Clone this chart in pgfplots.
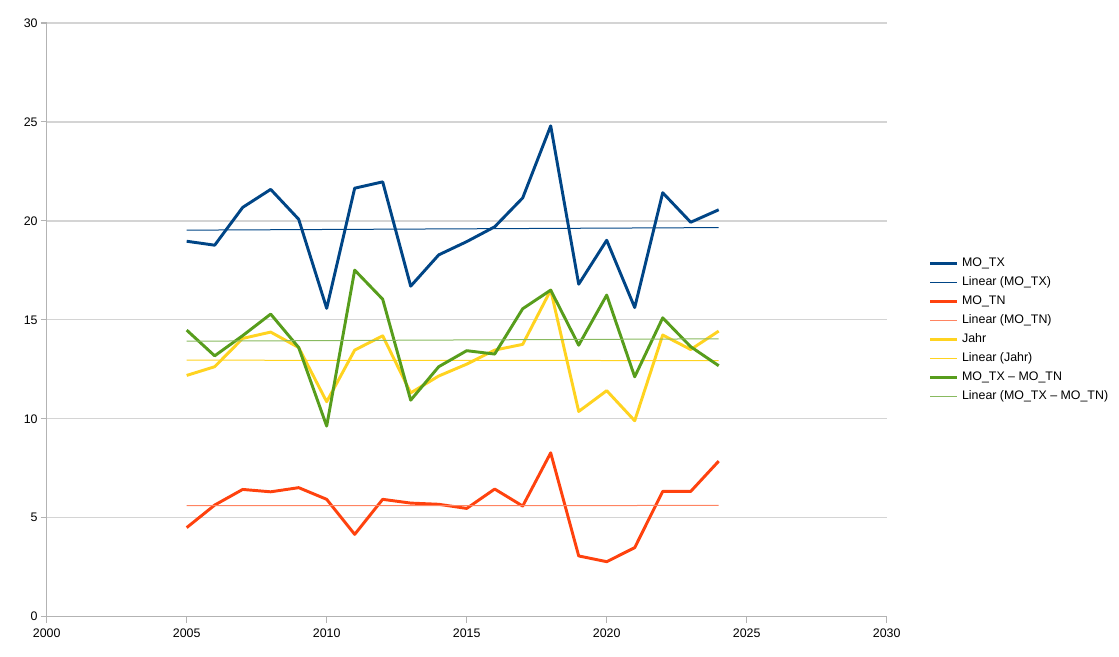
\documentclass[border=0pt]{standalone}
\usepackage{pgfplots}
\pgfplotsset{compat=1.18}
\usepackage{fontspec}
\setmainfont{Liberation Sans}
\definecolor{cTX}{HTML}{004586}
\definecolor{cTN}{HTML}{FF420E}
\definecolor{cJ}{HTML}{FFD320}
\definecolor{cD}{HTML}{579D1C}
\definecolor{axgray}{HTML}{B3B3B3}
\definecolor{grdgray}{HTML}{D4D4D4}
\begin{document}
\begin{tikzpicture}
\useasboundingbox (-35pt,-29.5pt) rectangle (804.2pt,462.5pt);
\begin{axis}[
  at={(0,0)}, anchor=south west,
  scale only axis, width=630pt, height=445.3pt,
  xmin=2000, xmax=2030, ymin=0, ymax=30,
  xtick={2000,2005,...,2030}, ytick={0,5,...,30},
  axis lines=left, axis line style={-, draw=axgray, line width=0.9pt},
  tick align=outside, major tick length=4.5pt,
  tick style={draw=axgray, line width=0.9pt},
  ymajorgrids, grid style={draw=grdgray, line width=1pt},
  /pgf/number format/assume math mode=true,
  /pgf/number format/1000 sep={},
  tick label style={font=\fontsize{9.3}{11}\selectfont, black},
  xticklabel style={yshift=-1pt},
  yticklabel style={xshift=1.2pt},
  legend cell align=left,
  legend style={at={(1.045,0.483)}, anchor=west, draw=none, fill=none,
    font=\fontsize{9.3}{11}\selectfont, row sep=0pt,
    nodes={inner sep=2.75pt, text height=6.5pt, text depth=2.2pt}},
  legend image code/.code={\draw[#1] (0pt,0pt) -- (20pt,0pt);},
  clip=false,
]
\addplot[cTX, line width=2.2pt, line join=round] coordinates {
(2005,18.97)(2006,18.77)(2007,20.68)(2008,21.59)(2009,20.08)(2010,15.58)
(2011,21.65)(2012,21.97)(2013,16.70)(2014,18.28)(2015,18.95)(2016,19.70)
(2017,21.16)(2018,24.80)(2019,16.80)(2020,19.02)(2021,15.62)(2022,21.42)
(2023,19.93)(2024,20.56)};
\addlegendentry{MO\_TX}
\addplot[cTX, line width=0.75pt] coordinates {(2005,19.53)(2024,19.66)};
\addlegendentry{Linear (MO\_TX)}
\addplot[cTN, line width=2.2pt, line join=round] coordinates {
(2005,4.50)(2006,5.64)(2007,6.43)(2008,6.31)(2009,6.52)(2010,5.93)
(2011,4.16)(2012,5.93)(2013,5.74)(2014,5.68)(2015,5.47)(2016,6.45)
(2017,5.59)(2018,8.28)(2019,3.07)(2020,2.78)(2021,3.49)(2022,6.33)
(2023,6.33)(2024,7.86)};
\addlegendentry{MO\_TN}
\addplot[cTN!65!white, line width=0.75pt] coordinates {(2005,5.61)(2024,5.62)};
\addlegendentry{Linear (MO\_TN)}
\addplot[cJ, line width=2.2pt, line join=round] coordinates {
(2005,12.19)(2006,12.63)(2007,14.06)(2008,14.38)(2009,13.60)(2010,10.86)
(2011,13.47)(2012,14.19)(2013,11.31)(2014,12.16)(2015,12.76)(2016,13.47)
(2017,13.76)(2018,16.50)(2019,10.37)(2020,11.42)(2021,9.90)(2022,14.23)
(2023,13.50)(2024,14.43)};
\addlegendentry{Jahr}
\addplot[cJ, line width=0.75pt] coordinates {(2005,12.96)(2024,12.94)};
\addlegendentry{Linear (Jahr)}
\addplot[cD, line width=2.2pt, line join=round] coordinates {
(2005,14.48)(2006,13.18)(2007,14.20)(2008,15.29)(2009,13.60)(2010,9.63)
(2011,17.51)(2012,16.04)(2013,10.94)(2014,12.63)(2015,13.44)(2016,13.27)
(2017,15.56)(2018,16.50)(2019,13.72)(2020,16.25)(2021,12.12)(2022,15.10)
(2023,13.64)(2024,12.68)};
\addlegendentry{MO\_TX – MO\_TN}
\addplot[cD!70!white, line width=0.75pt] coordinates {(2005,13.92)(2024,14.04)};
\addlegendentry{Linear (MO\_TX – MO\_TN)}
\end{axis}
\end{tikzpicture}
\end{document}
